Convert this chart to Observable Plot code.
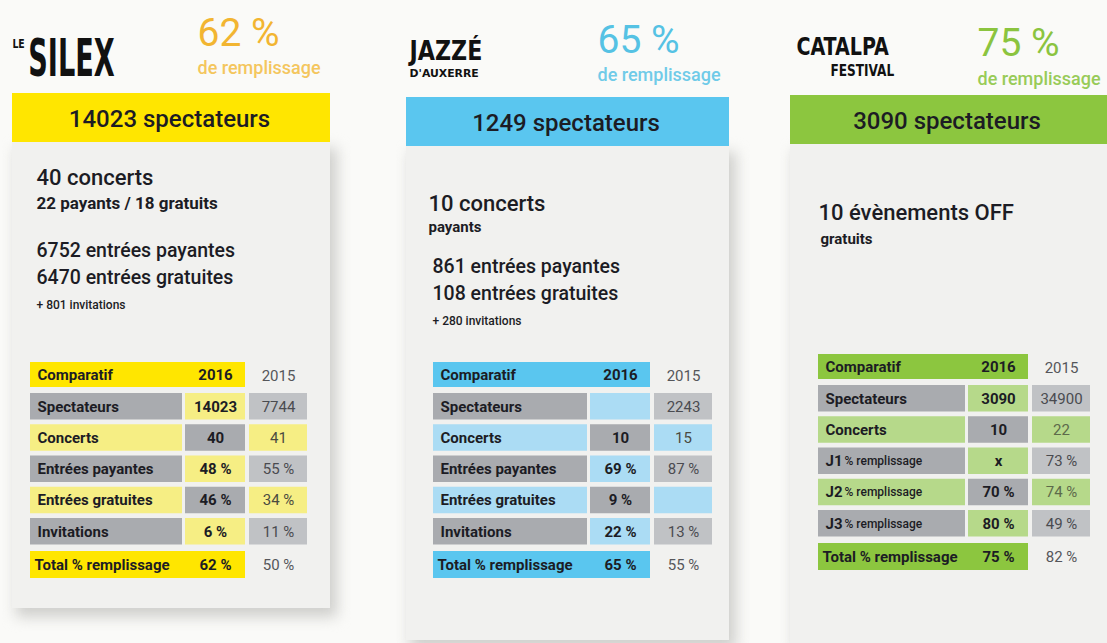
<!DOCTYPE html>
<html><head><meta charset="utf-8">
<script src="https://cdn.jsdelivr.net/npm/d3@7"></script>
<script src="https://cdn.jsdelivr.net/npm/@observablehq/plot@0.6"></script>
<style>html,body{margin:0;padding:0;background:#fafaf8;overflow:hidden;}</style>
</head><body><div id="chart"></div>
<script>
// ---------- DATA ----------
const venues = ["Le Silex", "Jazz'Auxerre", "Catalpa Festival"];
const fillRates = [62, 65, 75];
const spectators = [14023, 1249, 3090];
const headlines = ["40 concerts", "10 concerts", "10 évènements OFF"];
const sublines = ["22 payants / 18 gratuits", "payants", "gratuits"];
const paidEntries = [6752, 861, null];
const freeEntries = [6470, 108, null];
const invitations = [801, 280, null];
const tableHeader = ["Comparatif", "2016", "2015"];
const totalLabel = "Total % remplissage";
const silexLabels = ["Spectateurs", "Concerts", "Entrées payantes", "Entrées gratuites", "Invitations"];
const silex2016 = ["14023", "40", "48 %", "46 %", "6 %"];
const silex2015 = ["7744", "41", "55 %", "34 %", "11 %"];
const jazzLabels = ["Spectateurs", "Concerts", "Entrées payantes", "Entrées gratuites", "Invitations"];
const jazz2016 = ["", "10", "69 %", "9 %", "22 %"];
const jazz2015 = ["2243", "15", "87 %", "", "13 %"];
const catalpaLabels = ["Spectateurs", "Concerts", "J1 % remplissage", "J2 % remplissage", "J3 % remplissage"];
const catalpa2016 = ["3090", "10", "x", "70 %", "80 %"];
const catalpa2015 = ["34900", "22", "73 %", "74 %", "49 %"];
const total2016 = ["62 %", "65 %", "75 %"];
const total2015 = ["50 %", "55 %", "82 %"];
const logoWords = [["LE", "SILEX"], ["JAZZÉ", "D'AUXERRE"], ["CATALPA", "FESTIVAL"]];

// ---------- LAYOUT & STYLE ----------
const W = 1107, H = 643;
const panelX1 = [12, 406, 790], panelX2 = [330, 729, 1107];
const barY1 = [93, 97, 95], barH = 49;
const cardY2 = [608, 640, 643];
const tableX = [30, 433, 818], tableY = [362, 362, 354], labelW = [152, 154, 147];
const strong = ["#ffe600", "#5ac6ef", "#8cc63f"];
const light = ["#f6ee84", "#abdcf4", "#b6d98a"];
const pctCol = ["#f2b531", "#55c2e4", "#8bc43f"];
const pctSub = ["#f4c65e", "#70cbe8", "#98cb58"];
const GREY = "#a9abaf", GREY15 = "#c0c2c5", INK = "#1c1c24", INK15 = "#55565a";
const tables = [
  [silexLabels, silex2016, silex2015],
  [jazzLabels, jazz2016, jazz2015],
  [catalpaLabels, catalpa2016, catalpa2015]
];

const cards = [], shadows = [], bars = [], cells = [];
const tLabel = [], tLabelSmall = [], tVal = [], tVal15 = [], tBody = [], tBar = [], tPct = [], tPctSub = [];
for (let i = 0; i < 3; i++) {
  const c = {x1: panelX1[i], x2: panelX2[i], y1: barY1[i] + barH, y2: cardY2[i]};
  cards.push(c);
  shadows.push({x1: c.x1 + 4, x2: c.x2 + 7, y1: c.y1 + 6, y2: c.y2 + 9});
  bars.push({x1: panelX1[i], x2: panelX2[i], y1: barY1[i], y2: barY1[i] + barH, fill: strong[i]});
  tBar.push({x: (panelX1[i] + panelX2[i]) / 2 - 2, y: barY1[i] + barH / 2 + 1, t: `${spectators[i]} spectateurs`});
  const px = [197, 597, 977][i];
  tPct.push({x: px, y: [45, 52, 55][i], t: `${fillRates[i]} %`, c: pctCol[i]});
  tPctSub.push({x: px, y: [73, 80, 84][i], t: "de remplissage", c: pctSub[i]});

  // body text
  const bx = [36, 428, 818][i];
  const hy = [184, 210, 219][i];
  tBody.push({x: bx, y: hy, t: headlines[i], s: 22, w: 500});
  tBody.push({x: bx + (i === 2 ? 2 : 0), y: [208, 231, 243][i], t: sublines[i], s: i === 0 ? 17 : 15, w: 700});
  if (paidEntries[i] != null) {
    const ex = [36, 432][i], ey = [256, 272][i];
    tBody.push({x: ex, y: ey, t: `${paidEntries[i]} entrées payantes`, s: 19.5, w: 500});
    tBody.push({x: ex, y: ey + 27, t: `${freeEntries[i]} entrées gratuites`, s: 19.5, w: 500});
    tBody.push({x: ex, y: ey + 52, t: `+ ${invitations[i]} invitations`, s: 12, w: 500});
  }

  // table
  const tx = tableX[i], ty = tableY[i], lw = labelW[i];
  const c16 = [tx + lw + 3, tx + lw + 63], c15 = [tx + lw + 67, tx + lw + 125];
  const hh = 25, rh = 26.5;
  cells.push({x1: tx, x2: c16[1], y1: ty, y2: ty + hh, fill: strong[i]});
  tLabel.push({x: tx + 7, y: ty + hh / 2, t: tableHeader[0]});
  tVal.push({x: (c16[0] + c16[1]) / 2, y: ty + hh / 2, t: tableHeader[1]});
  tVal15.push({x: (c15[0] + c15[1]) / 2, y: ty + hh / 2 + 1, t: tableHeader[2], c: INK15});
  const [labs, v16, v15] = tables[i];
  labs.forEach((lab, r) => {
    const y1 = ty + 31 + 31.25 * r, y2 = y1 + rh, ym = (y1 + y2) / 2;
    const even = r % 2 === 0;
    const fLab = even ? GREY : light[i];
    const f16 = even ? light[i] : GREY;
    const f15 = even ? GREY15 : light[i];
    cells.push({x1: tx, x2: tx + lw, y1, y2, fill: fLab});
    cells.push({x1: c16[0], x2: c16[1], y1, y2, fill: f16});
    cells.push({x1: c15[0], x2: c15[1], y1, y2, fill: f15});
    if (/^J\d/.test(lab)) {
      const pre = lab.split(" ")[0];
      tLabel.push({x: tx + 7, y: ym, t: pre});
      tLabelSmall.push({x: tx + 26, y: ym, t: lab.slice(pre.length + 1)});
    } else {
      tLabel.push({x: tx + 7, y: ym, t: lab});
    }
    tVal.push({x: (c16[0] + c16[1]) / 2, y: ym, t: v16[r]});
    tVal15.push({x: (c15[0] + c15[1]) / 2, y: ym, t: v15[r], c: even ? "#4a4b50" : (i === 2 ? "#5d6a4a" : "#4a4a40")});
  });
  const ytot = ty + 189;
  cells.push({x1: tx, x2: c16[1], y1: ytot, y2: ytot + 27, fill: strong[i]});
  tLabel.push({x: tx + 4, y: ytot + 13.5, t: totalLabel});
  tVal.push({x: (c16[0] + c16[1]) / 2, y: ytot + 13.5, t: total2016[i]});
  tVal15.push({x: (c15[0] + c15[1]) / 2, y: ytot + 13.5, t: total2015[i], c: INK15});
}

// logos (rendered as text, each its own mark so it can be condensed)
const logoSpecs = [
  {w: 0, k: 0, x: 12, y: 47, s: 13, sx: 0.8, cls: "logo-0"},
  {w: 0, k: 1, x: 28, y: 75, s: 52, sx: 0.58, cls: "logo-1"},
  {w: 1, k: 0, x: 409, y: 59, s: 26, sx: 0.95, cls: "logo-2"},
  {w: 1, k: 1, x: 409, y: 76, s: 11, sx: 1.1, cls: "logo-3"},
  {w: 2, k: 0, x: 796, y: 54, s: 25, sx: 0.85, cls: "logo-4"},
  {w: 2, k: 1, x: 830, y: 75, s: 15, sx: 0.9, cls: "logo-5"}
];

const F = "Roboto, 'DejaVu Sans', sans-serif";
const FC = "'DejaVu Sans Condensed', 'Liberation Sans Narrow', 'DejaVu Sans', sans-serif";
const base = {x: "x", y: "y", text: "t", fontFamily: F};

const chart = Plot.plot({
  width: W, height: H,
  margin: 0,
  x: {domain: [0, W], range: [0, W], axis: null},
  y: {domain: [0, H], range: [0, H], axis: null},
  color: {type: "identity"},
  style: {background: "#fafaf8", fontFamily: F},
  marks: [
    Plot.rect(shadows, {x1: "x1", x2: "x2", y1: "y1", y2: "y2", fill: "#cfcfcc", imageFilter: "blur(7px)"}),
    Plot.rect(cards, {x1: "x1", x2: "x2", y1: "y1", y2: "y2", fill: "#f1f1ef"}),
    Plot.rect(bars, {x1: "x1", x2: "x2", y1: "y1", y2: "y2", fill: "fill"}),
    Plot.rect(cells, {x1: "x1", x2: "x2", y1: "y1", y2: "y2", fill: "fill"}),
    Plot.text(tBar, {...base, fill: INK, fontSize: 24, fontWeight: 500, textAnchor: "middle", lineAnchor: "middle"}),
    Plot.text(tPct, {...base, fill: "c", fontSize: 39, fontWeight: 400, textAnchor: "start", lineAnchor: "bottom"}),
    Plot.text(tPctSub, {...base, fill: "c", fontSize: 18, fontWeight: 500, textAnchor: "start", lineAnchor: "bottom"}),
    ...[400, 500, 700].map(w => Plot.text(tBody.filter(d => d.w === w), {...base, fill: INK, fontSize: "s", fontWeight: w, textAnchor: "start", lineAnchor: "bottom"})),
    Plot.text(tLabel, {...base, fill: INK, fontSize: 15, fontWeight: 700, textAnchor: "start", lineAnchor: "middle"}),
    Plot.text(tLabelSmall, {...base, fill: INK, fontSize: 12, fontWeight: 500, textAnchor: "start", lineAnchor: "middle"}),
    Plot.text(tVal, {...base, fill: INK, fontSize: 15, fontWeight: 700, textAnchor: "middle", lineAnchor: "middle"}),
    Plot.text(tVal15, {...base, fill: "c", fontSize: 15, fontWeight: 400, textAnchor: "middle", lineAnchor: "middle"}),
    ...logoSpecs.map(L => Plot.text([{x: L.x, y: L.y, t: logoWords[L.w][L.k]}], {...base, fontFamily: FC, fill: "#111", fontSize: L.s, fontWeight: 900, textAnchor: "start", lineAnchor: "bottom", className: L.cls}))
  ]
});
// condense logo words horizontally around their left edge
logoSpecs.forEach(L => {
  const g = chart.querySelector("." + L.cls) || chart.querySelector(`[class*="${L.cls}"]`);
  if (!g) return;
  const prev = g.getAttribute("transform") || "";
  g.setAttribute("transform", `matrix(${L.sx},0,0,1,${(1 - L.sx) * L.x},0) ${prev}`);
});
document.getElementById("chart").appendChild(chart);
</script>
</body></html>
